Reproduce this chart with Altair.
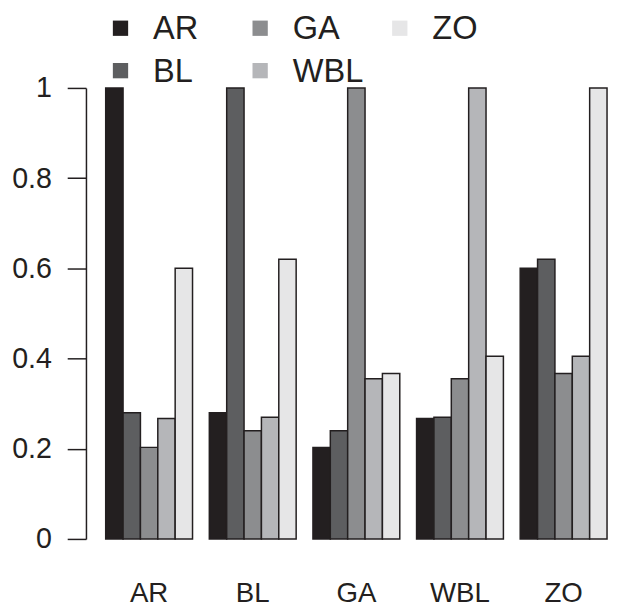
import altair as alt
import pandas as pd

groups = ["AR", "BL", "GA", "WBL", "ZO"]
series = ["AR", "BL", "GA", "WBL", "ZO"]
vals_AR = [1.0, 0.28, 0.203, 0.267, 0.60]
vals_BL = [0.28, 1.0, 0.24, 0.27, 0.62]
vals_GA = [0.203, 0.24, 1.0, 0.355, 0.367]
vals_WBL = [0.267, 0.27, 0.355, 1.0, 0.405]
vals_ZO = [0.60, 0.62, 0.367, 0.405, 1.0]
colors = ["#231f20", "#5d5e60", "#8c8d8f", "#b5b6b9", "#e6e6e7"]

# legend laid out column by column (AR GA ZO / BL WBL)
legend_series = ["AR", "GA", "ZO", "BL", "WBL"]
legend_col = [0, 1, 2, 0, 1]
legend_row = [0, 0, 0, 1, 1]

matrix = [vals_AR, vals_BL, vals_GA, vals_WBL, vals_ZO]
rows = []
for g, rowvals in zip(groups, matrix):
    for s, v in zip(series, rowvals):
        rows.append({"group": g, "series": s, "value": v})
df = pd.DataFrame(rows)
leg = pd.DataFrame({"series": legend_series, "col": legend_col, "row": legend_row})

FONT = "Liberation Sans"
INK = "#231f20"
color_scale = alt.Scale(domain=series, range=colors)

bars = alt.Chart(df).mark_bar(stroke=INK, strokeWidth=1.5, opacity=1).encode(
    x=alt.X("group:N", sort=groups,
            scale=alt.Scale(paddingInner=0.162, paddingOuter=0.019),
            axis=alt.Axis(title=None, labelAngle=0, ticks=False, domain=False,
                          labelFontSize=28, labelFont=FONT, labelColor=INK,
                          labelPadding=41)),
    xOffset=alt.XOffset("series:N", sort=series,
                        scale=alt.Scale(paddingInner=0, paddingOuter=0)),
    y=alt.Y("value:Q", scale=alt.Scale(domain=[0, 1], nice=False),
            axis=alt.Axis(title=None, values=[0, 0.2, 0.4, 0.6, 0.8, 1], format="~g",
                          grid=False, offset=18, tickSize=19, tickWidth=1.5,
                          tickColor=INK, domainColor=INK, domainWidth=1.5,
                          labelFontSize=29, labelFont=FONT, labelColor=INK,
                          labelPadding=16)),
    color=alt.Color("series:N", scale=color_scale, legend=None),
)

lx = alt.X("col:Q", scale=alt.Scale(domain=[-0.1201, 3.4982], nice=False, zero=False), axis=None)
ly = alt.Y("row:Q", scale=alt.Scale(domain=[1.407, 12.035], nice=False, zero=False, reverse=True), axis=None)

leg_sq = alt.Chart(leg).mark_square(size=240, opacity=1, filled=True).encode(
    x=lx, y=ly, color=alt.Color("series:N", scale=color_scale, legend=None)
)
leg_tx = alt.Chart(leg).mark_text(align="left", baseline="middle", dx=33, dy=1,
                                  fontSize=33, font=FONT, color=INK).encode(
    x=lx, y=ly, text="series:N"
)

chart = alt.layer(bars, leg_sq, leg_tx).resolve_scale(
    x="independent", y="independent"
).properties(
    width=512, height=457,
    autosize=alt.AutoSizeParams(type="none"),
    padding={"left": 97, "top": 77, "right": 0, "bottom": 67},
).configure_view(stroke=None)

chart.save("out.html", embed_options={"renderer": "svg", "actions": False})
